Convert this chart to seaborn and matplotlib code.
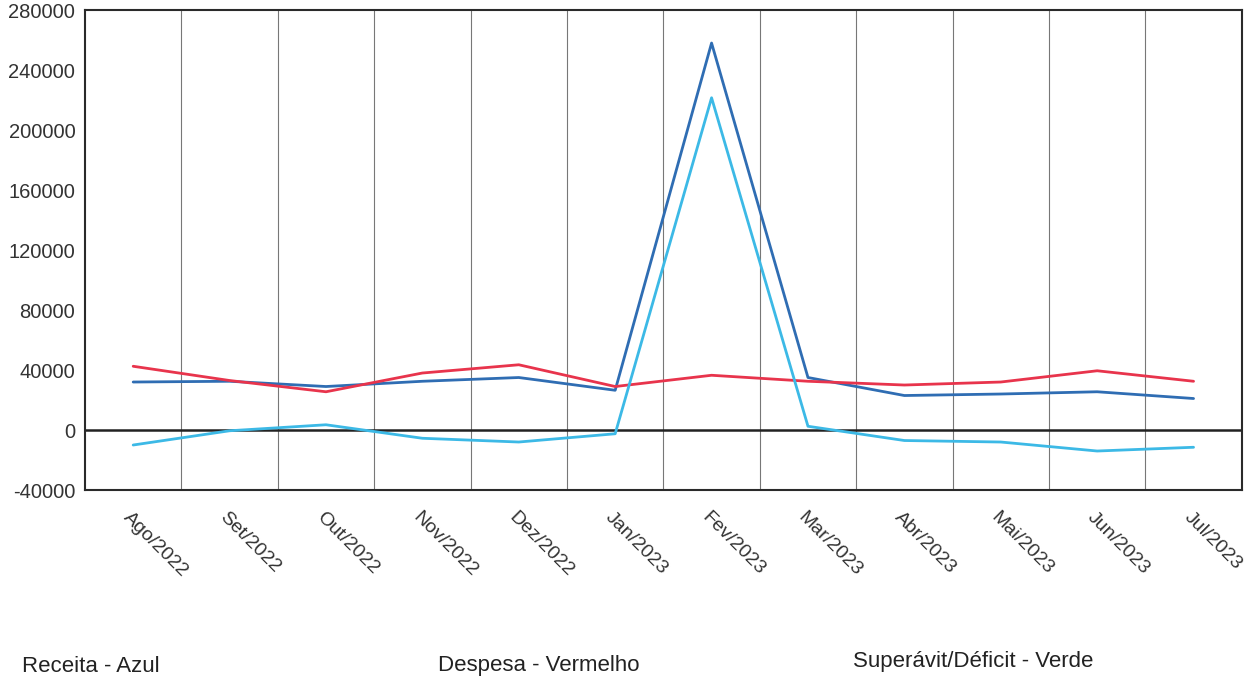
import pandas as pd
import matplotlib.pyplot as plt
import matplotlib.transforms as mtransforms
import seaborn as sns

meses = ["Ago/2022", "Set/2022", "Out/2022", "Nov/2022", "Dez/2022", "Jan/2023",
         "Fev/2023", "Mar/2023", "Abr/2023", "Mai/2023", "Jun/2023", "Jul/2023"]
receita = [32000, 32500, 29000, 32500, 35000, 26500, 258000, 35000, 23000, 24000, 25500, 21000]
despesa = [42500, 33000, 25500, 38000, 43500, 29000, 36500, 32500, 30000, 32000, 39500, 32500]
saldo = [-10000, -500, 3500, -5500, -8000, -2500, 221500, 2500, -7000, -8000, -14000, -11500]
y_ticks = [-40000, 0, 40000, 80000, 120000, 160000, 200000, 240000, 280000]

cores = {"Receita": "#2f6db3", "Despesa": "#e8344c", "Saldo": "#3cb9e6"}

# tabela longa para o seaborn
df = pd.DataFrame({
    "mes": list(range(len(meses))) * 3,
    "valor": receita + despesa + saldo,
    "serie": ["Receita"] * 12 + ["Despesa"] * 12 + ["Saldo"] * 12,
})

sns.set_style("white")
plt.rcParams["font.family"] = ["Liberation Sans", "DejaVu Sans"]

fig = plt.figure(figsize=(12.48, 6.82), dpi=100)
ax = fig.add_axes([0.0681, 0.2815, 0.9269, 0.7038])

ax.axhline(0, color="#222222", lw=1.8, zorder=1)
sns.lineplot(data=df, x="mes", y="valor", hue="serie", palette=cores,
             hue_order=["Receita", "Despesa", "Saldo"], linewidth=2,
             legend=False, ax=ax, zorder=3)

ax.set_xlim(-0.5, 11.5)
ax.set_ylim(-40000, 280000)
ax.set_yticks(y_ticks)
ax.set_yticklabels([str(v) for v in y_ticks], fontsize=14.5, color="#333333")
ax.set_xticks(range(12))
ax.set_xticks([i + 0.5 for i in range(11)], minor=True)
ax.grid(which="minor", axis="x", color="#777777", lw=0.8)
ax.grid(which="major", visible=False)
ax.tick_params(axis="both", which="both", length=0)
ax.tick_params(axis="y", pad=7)
ax.tick_params(axis="x", pad=18)
ax.set_xticklabels(meses, fontsize=14, color="#333333", rotation=-45,
                   ha="left", va="center", rotation_mode="anchor")
desloc = mtransforms.ScaledTranslation(-7 / 100, 0, fig.dpi_scale_trans)
for lbl in ax.get_xticklabels():
    lbl.set_transform(lbl.get_transform() + desloc)
ax.set_xlabel("")
ax.set_ylabel("")
for s in ax.spines.values():
    s.set_color("#2a2a2a")
    s.set_linewidth(1.5)

fig.text(22 / 1248, 1 - 667 / 682, "Receita - Azul", fontsize=16, color="#222222", va="center")
fig.text(438 / 1248, 1 - 665 / 682, "Despesa - Vermelho", fontsize=16, color="#222222", va="center")
fig.text(853 / 1248, 1 - 662 / 682, "Superávit/Déficit - Verde", fontsize=16, color="#222222", va="center")

fig.savefig("out.png", dpi=100)
